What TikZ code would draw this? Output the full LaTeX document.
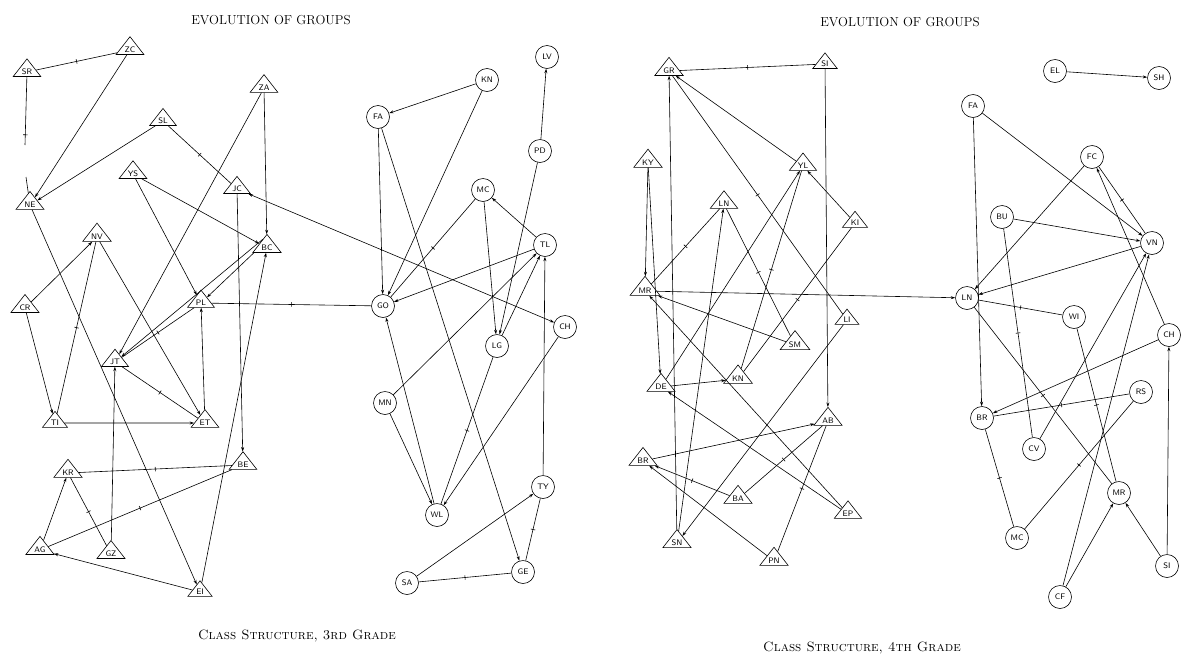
\documentclass[tikz,border=0pt]{standalone}
\usetikzlibrary{arrows.meta,shapes.geometric}

\begin{document}
\begin{tikzpicture}[x=1pt, y=-1pt,
    line width=0.6pt,
    boy/.style={draw, isosceles triangle, shape border rotate=90,
      isosceles triangle apex angle=76, inner sep=1.6pt,
      font=\sffamily\fontsize{8}{8}\selectfont},
    girl/.style={draw, circle, minimum size=23pt, inner sep=0pt,
      font=\sffamily\fontsize{8}{8}\selectfont},
    choice/.style={-{Stealth[length=4.5pt, width=3pt]}},
    both/.style={{Stealth[length=4.5pt, width=3pt]}-{Stealth[length=4.5pt, width=3pt]}},
    midbar/.style={sloped, allow upside down, fill=black, inner sep=0pt,
      minimum width=0.6pt, minimum height=4.5pt},
    title/.style={font=\fontsize{13}{15}\selectfont},
    caption/.style={font=\fontsize{13.5}{15}\selectfont\scshape}
  ]
  \useasboundingbox (0,0) rectangle (1182,659);
  %---- TITLES ----
  \node[title] (t3) at (271,20) {EVOLUTION OF GROUPS};
  \node[title] (t4) at (900,22) {EVOLUTION OF GROUPS};
  \node[caption] (c3) at (297,636) {Class Structure, 3rd Grade};
  \node[caption] (c4) at (862,648) {Class Structure, 4th Grade};
  %---- 3RD GRADE: BOYS ----
  \node[boy] (b3sr) at (27,72)  {SR};
  \node[boy] (b3zc) at (130,50) {ZC};
  \node[boy] (b3za) at (264,88) {ZA};
  \node[boy] (b3sl) at (163,121) {SL};
  \node[boy] (b3ys) at (133,174) {YS};
  \node[boy] (b3jc) at (237,189) {JC};
  \node[boy] (b3ne) at (30,205) {NE};
  \node[boy] (b3nv) at (97,237) {NV};
  \node[boy] (b3bc) at (267,248) {BC};
  \node[boy] (b3cr) at (25,308) {CR};
  \node[boy] (b3pl) at (201,303) {PL};
  \node[boy] (b3jt) at (115,362) {JT};
  \node[boy] (b3ti) at (55,423) {TI};
  \node[boy] (b3et) at (205,423) {ET};
  \node[boy] (b3be) at (243,465) {BE};
  \node[boy] (b3kr) at (68,473) {KR};
  \node[boy] (b3ag) at (40,550) {AG};
  \node[boy] (b3gz) at (111,554) {GZ};
  \node[boy] (b3ei) at (200,592) {EI};
  %---- 3RD GRADE: GIRLS ----
  \node[girl] (g3kn) at (487,80)  {KN};
  \node[girl] (g3lv) at (547,57)  {LV};
  \node[girl] (g3fa) at (378,117) {FA};
  \node[girl] (g3pd) at (540,151) {PD};
  \node[girl] (g3mc) at (483,190) {MC};
  \node[girl] (g3tl) at (545,245) {TL};
  \node[girl] (g3go) at (383,306) {GO};
  \node[girl] (g3ch) at (565,327) {CH};
  \node[girl] (g3lg) at (497,346) {LG};
  \node[girl] (g3mn) at (385,403) {MN};
  \node[girl] (g3wl) at (437,515) {WL};
  \node[girl] (g3ty) at (543,487) {TY};
  \node[girl] (g3ge) at (523,572) {GE};
  \node[girl] (g3sa) at (407,583) {SA};
  %---- 3RD GRADE: CHOICES ----
  \coordinate (b3gapA) at (25,145);
  \coordinate (b3gapB) at (26,177);
  \draw (b3sr) -- node[pos=0.85, midbar]{} (b3gapA);
  \draw (b3gapB) -- (b3ne);
  \draw (b3sr) -- node[midbar]{} (b3zc);
  \draw (b3sl) -- node[midbar]{} (b3jc);
  \draw (b3nv) -- node[midbar]{} (b3ti);
  \draw (b3pl) -- node[midbar]{} (b3jt);
  \draw (b3pl) -- node[midbar]{} (g3go);
  \draw (b3jt) -- node[midbar]{} (b3et);
  \draw (b3be) -- node[midbar]{} (b3kr);
  \draw (b3be) -- node[midbar]{} (b3ag);
  \draw (b3kr) -- node[midbar]{} (b3gz);
  \draw[choice] (b3zc) -- (b3ne);
  \draw[choice] (b3sl) -- (b3ne);
  \draw[choice] (b3ys) -- (b3bc);
  \draw[choice] (b3ys) -- (b3pl);
  \draw[choice] (b3za) -- (b3jt);
  \draw[choice] (b3za) -- (b3bc);
  \draw[choice] (b3jc) -- (b3be);
  \draw[choice] (b3nv) -- (b3et);
  \draw[choice] (b3cr) -- (b3nv);
  \draw[choice] (b3cr) -- (b3ti);
  \draw[choice] (b3ne) -- (b3ei);
  \draw[choice] (b3bc.200) -- (b3pl);
  \draw[choice] (b3bc.115) -- (b3jt);
  \draw[choice] (b3et) -- (b3pl);
  \draw[choice] (b3ti) -- (b3et);
  \draw[choice] (b3ei) -- (b3bc);
  \draw[choice] (b3gz) -- (b3jt);
  \draw[choice] (b3ag) -- (b3kr);
  \draw[choice] (b3ei) -- (b3ag);
  \draw[both] (b3jc) -- (g3ch);
  \draw (g3mc) -- node[midbar]{} (g3go);
  \draw (g3lg) -- node[midbar]{} (g3wl);
  \draw (g3ge) -- node[midbar]{} (g3ty);
  \draw (g3ge) -- node[midbar]{} (g3sa);
  \draw[choice] (g3kn) -- (g3fa);
  \draw[choice] (g3kn) -- (g3go);
  \draw[choice] (g3fa) -- (g3go);
  \draw[choice] (g3fa) -- (g3ge);
  \draw[choice] (g3pd) -- (g3lv);
  \draw[choice] (g3pd) -- (g3lg);
  \draw[choice] (g3mc) -- (g3lg);
  \draw[choice] (g3tl) -- (g3mc);
  \draw[choice] (g3tl) -- (g3go);
  \draw[choice] (g3lg) -- (g3tl);
  \draw[choice] (g3mn) -- (g3tl);
  \draw[choice] (g3ty) -- (g3tl);
  \draw[choice] (g3wl) -- (g3go);
  \draw[choice] (g3mn) -- (g3wl);
  \draw[choice] (g3ch) -- (g3wl);
  \draw[choice] (g3sa) -- (g3ty);
  %---- 4TH GRADE: BOYS ----
  \node[boy] (b4gr) at (669,71)  {GR};
  \node[boy] (b4si) at (825,64)  {SI};
  \node[boy] (b4ky) at (648,163) {KY};
  \node[boy] (b4yl) at (803,166) {YL};
  \node[boy] (b4ln) at (724,204) {LN};
  \node[boy] (b4ki) at (855,223) {KI};
  \node[boy] (b4mr) at (645,291) {MR};
  \node[boy] (b4li) at (847,320) {LI};
  \node[boy] (b4sm) at (795,345) {SM};
  \node[boy] (b4de) at (661,387) {DE};
  \node[boy] (b4kn) at (738,379) {KN};
  \node[boy] (b4ab) at (828,421) {AB};
  \node[boy] (b4br) at (643,461) {BR};
  \node[boy] (b4ba) at (738,499) {BA};
  \node[boy] (b4ep) at (848,514) {EP};
  \node[boy] (b4sn) at (677,543) {SN};
  \node[boy] (b4pn) at (774,561) {PN};
  %---- 4TH GRADE: GIRLS ----
  \node[girl] (g4el) at (1055,71)  {EL};
  \node[girl] (g4sh) at (1159,78)  {SH};
  \node[girl] (g4fa) at (973,106)  {FA};
  \node[girl] (g4fc) at (1092,157) {FC};
  \node[girl] (g4bu) at (1002,217) {BU};
  \node[girl] (g4vn) at (1152,243) {VN};
  \node[girl] (g4ln) at (967,298)  {LN};
  \node[girl] (g4wi) at (1074,317) {WI};
  \node[girl] (g4ch) at (1169,335) {CH};
  \node[girl] (g4rs) at (1141,392) {RS};
  \node[girl] (g4br) at (982,418)  {BR};
  \node[girl] (g4cv) at (1034,449) {CV};
  \node[girl] (g4mr) at (1119,493) {MR};
  \node[girl] (g4mc) at (1017,538) {MC};
  \node[girl] (g4si) at (1167,566) {SI};
  \node[girl] (g4cf) at (1060,597) {CF};
  %---- 4TH GRADE: CHOICES ----
  \draw (b4gr) -- node[midbar]{} (b4si);
  \draw (b4gr) -- node[midbar]{} (b4li);
  \draw (b4ln) -- node[midbar]{} (b4sm);
  \draw (b4mr) -- node[midbar]{} (b4ln);
  \draw (b4kn) -- node[midbar]{} (b4yl);
  \draw (b4ki) -- node[midbar]{} (b4kn);
  \draw (b4ab) -- node[midbar]{} (b4ba);
  \draw (b4ab) -- node[midbar]{} (b4pn);
  \draw[choice] (b4ba) -- node[midbar]{} (b4br);
  \draw[choice] (b4si) -- (b4ab);
  \draw[choice] (b4yl) -- (b4gr);
  \draw[choice] (b4sn) -- (b4gr);
  \draw[choice] (b4ky) -- (b4mr);
  \draw[choice] (b4ky) -- (b4de);
  \draw[choice] (b4sn) -- (b4ln);
  \draw[choice] (b4de) -- (b4yl);
  \draw[choice] (b4ki) -- (b4yl);
  \draw[choice] (b4mr) -- (g4ln);
  \draw[choice] (b4sm) -- (b4mr);
  \draw[choice] (b4ep) -- (b4mr);
  \draw[choice] (b4ep) -- (b4de);
  \draw[choice] (b4br) -- (b4ab);
  \draw[choice] (b4pn) -- (b4br);
  \draw[choice] (b4de) -- (b4kn);
  \draw[choice] (b4li) -- (b4sn);
  \draw (g4fc) -- node[midbar]{} (g4vn);
  \draw (g4bu) -- node[midbar]{} (g4cv);
  \draw (g4ln) -- node[midbar]{} (g4wi);
  \draw (g4ln) -- node[midbar]{} (g4mr);
  \draw (g4wi) -- node[midbar]{} (g4mr);
  \draw (g4rs) -- node[midbar]{} (g4br);
  \draw (g4br) -- node[midbar]{} (g4mc);
  \draw (g4mc) -- node[midbar]{} (g4rs);
  \draw[choice] (g4el) -- (g4sh);
  \draw[choice] (g4fa) -- (g4br);
  \draw[choice] (g4fa) -- (g4vn);
  \draw[choice] (g4fc) -- (g4ln);
  \draw[choice] (g4ch) -- (g4fc);
  \draw[choice] (g4bu) -- (g4vn);
  \draw[choice] (g4vn) -- (g4ln);
  \draw[choice] (g4ch) -- (g4br);
  \draw[choice] (g4cv) -- (g4vn);
  \draw[choice] (g4cf) -- (g4vn);
  \draw[choice] (g4cf) -- (g4mr);
  \draw[choice] (g4si) -- (g4mr);
  \draw[choice] (g4si) -- (g4ch);
\end{tikzpicture}
\end{document}
